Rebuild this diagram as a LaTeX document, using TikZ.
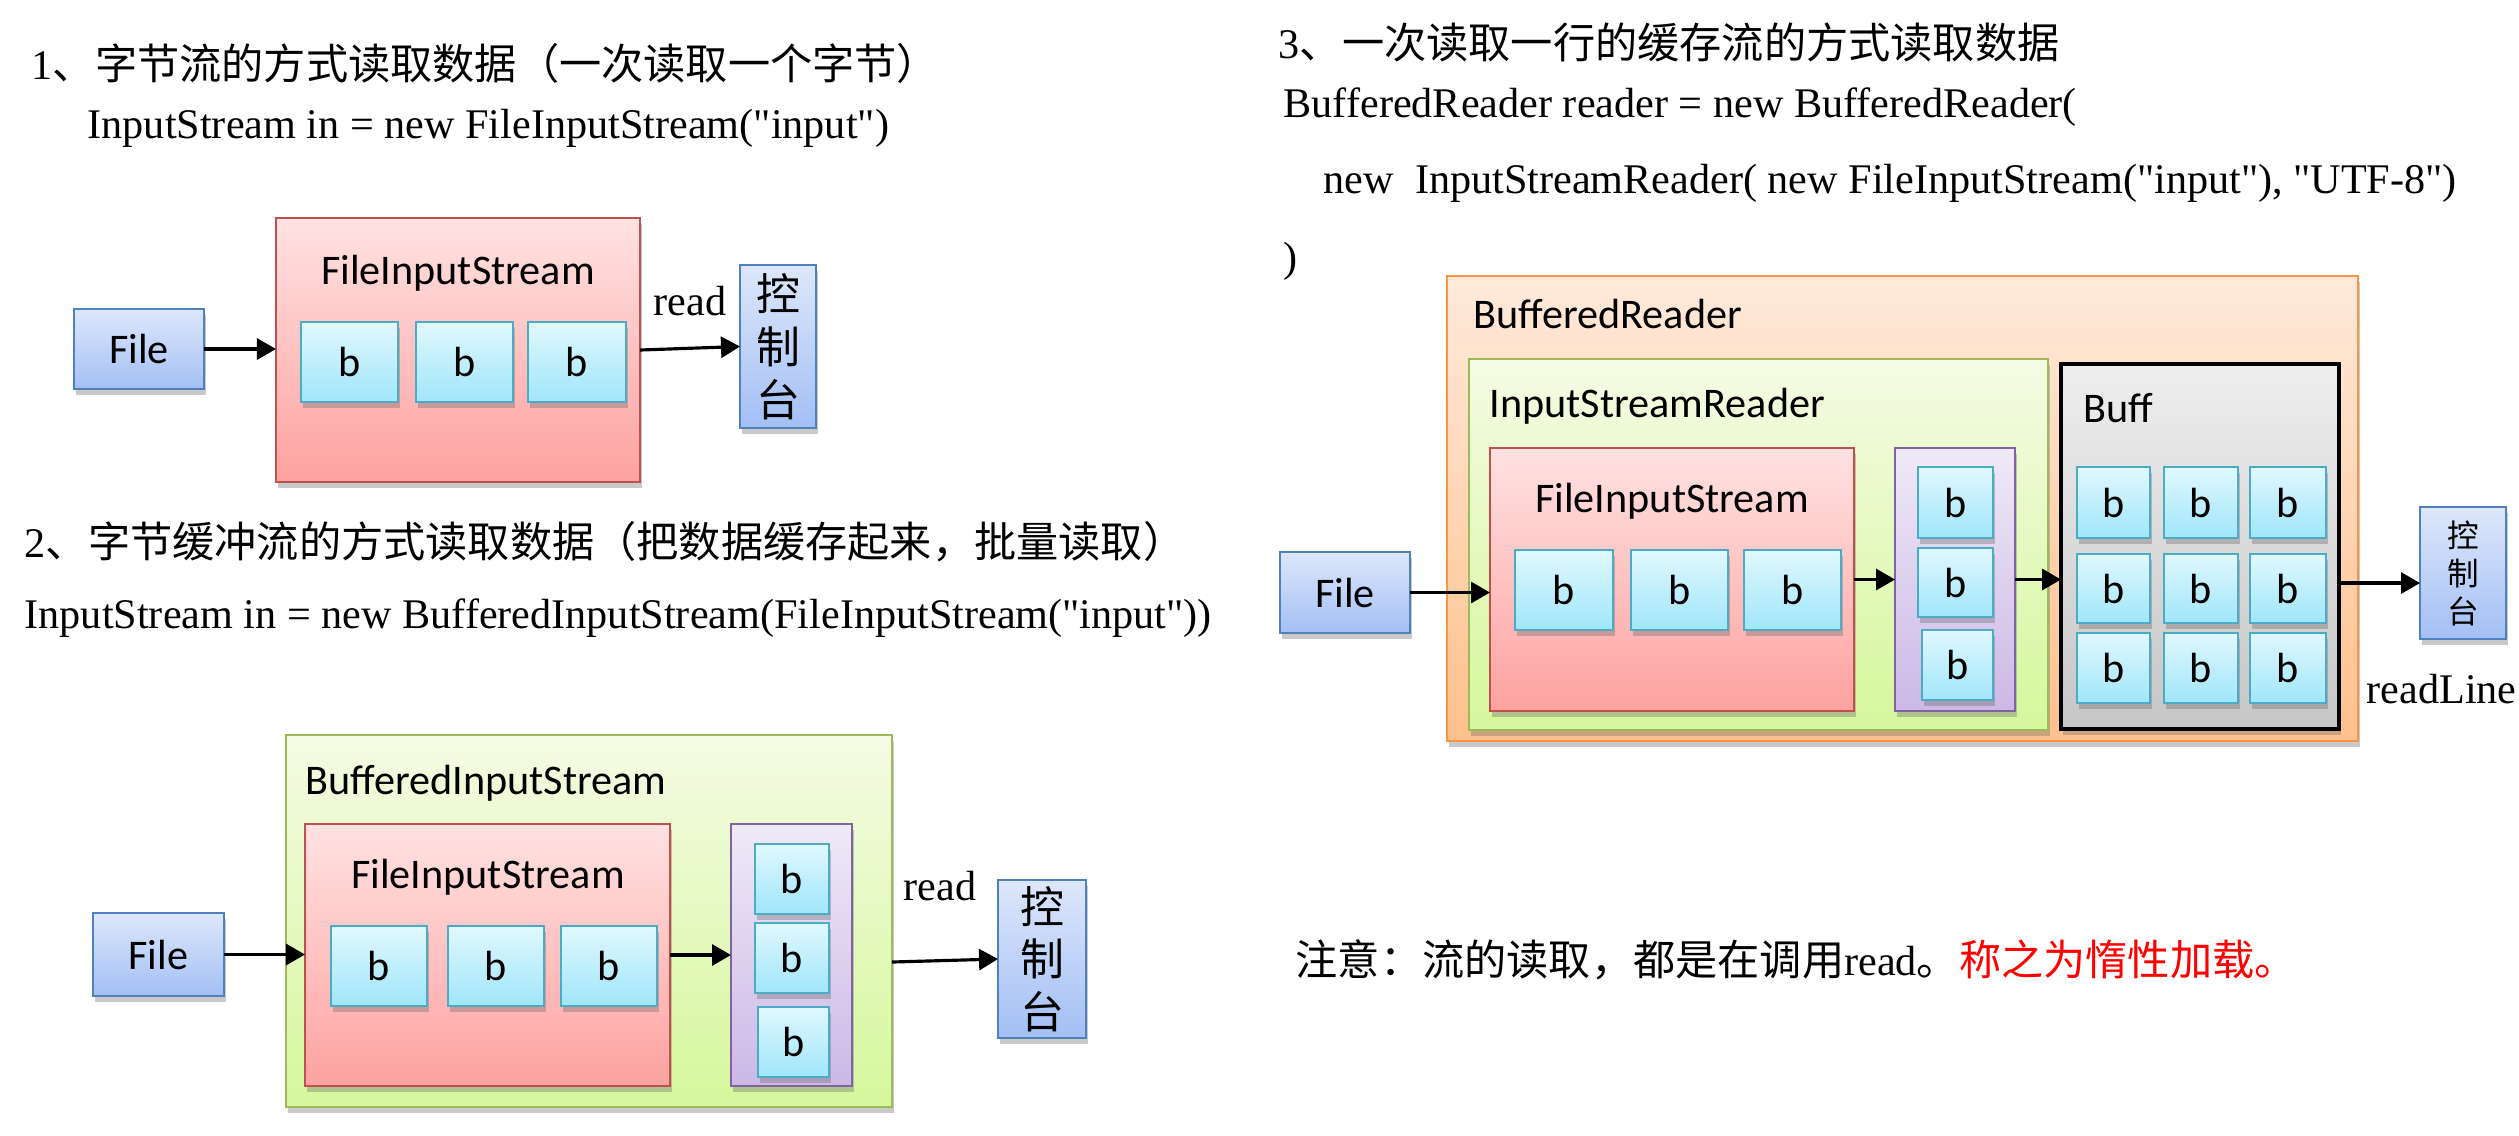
\documentclass[tikz,border=0pt]{standalone}
\usepackage{fontspec}
\setmainfont{Liberation Serif}[Ligatures=TeXOff]
\newfontfamily\cjk{Noto Sans CJK SC}
\newfontfamily\calfont{Carlito}
\usetikzlibrary{arrows.meta,shadows}
\newcommand\fs{\fontsize{12}{14.4}\selectfont}
\definecolor{blueT}{HTML}{DDE7FB}\definecolor{blueB}{HTML}{A3BFF4}\definecolor{blueD}{HTML}{4F81BD}
\definecolor{cyanT}{HTML}{E0F8FE}\definecolor{cyanB}{HTML}{A0E6FA}\definecolor{cyanD}{HTML}{4BACC6}
\definecolor{redT}{HTML}{FFE2E2}\definecolor{redB}{HTML}{FDA2A0}\definecolor{redD}{HTML}{C0504D}
\definecolor{grnT}{HTML}{F4FBE4}\definecolor{grnB}{HTML}{D6F79C}\definecolor{grnD}{HTML}{9BBB59}
\definecolor{purT}{HTML}{EFEAF8}\definecolor{purB}{HTML}{CCB8E6}\definecolor{purD}{HTML}{8064A2}
\definecolor{orgT}{HTML}{FFEADB}\definecolor{orgB}{HTML}{FFC08C}\definecolor{orgD}{HTML}{F79646}
\definecolor{gryT}{HTML}{EEEEEE}\definecolor{gryB}{HTML}{C6C6C6}
% #1 style, #2 name, #3 x1, #4 y1, #5 x2, #6 y2 (pixels), #7 text
\newcommand\mkbox[7]{\node[#1, minimum width={(#5-#3)*0.01cm}, minimum height={(#6-#4)*0.01cm}]
  (#2) at ({(#3+#5)/2},{(#4+#6)/2}) {#7};}
\tikzset{
  shbox/.style={inner sep=0pt, outer sep=0pt, line width=0.8pt, anchor=center,
    drop shadow={shadow xshift=0.6pt, shadow yshift=-1.8pt, opacity=0.35, fill=black!60}},
  filebox/.style={shbox, draw=blueD, top color=blueT, bottom color=blueB, font=\calfont\fs},
  conbox/.style={shbox, draw=blueD, top color=blueT, bottom color=blueB, align=center,
    font=\cjk\fontsize{12.5}{15}\selectfont},
  conboxs/.style={shbox, draw=blueD, top color=blueT, bottom color=blueB, align=center,
    font=\cjk\fontsize{9}{10.8}\selectfont},
  bbox/.style={shbox, draw=cyanD, top color=cyanT, bottom color=cyanB, font=\calfont\fs},
  redbox/.style={shbox, draw=redD, top color=redT, bottom color=redB},
  grnbox/.style={shbox, draw=grnD, top color=grnT, bottom color=grnB},
  purbox/.style={shbox, draw=purD, top color=purT, bottom color=purB},
  orgbox/.style={shbox, draw=orgD, top color=orgT, bottom color=orgB},
  grybox/.style={shbox, draw=black, line width=0.9pt, top color=gryT, bottom color=gryB},
  ser/.style={inner sep=0pt, font=\fs},
  lab/.style={inner sep=0pt, font=\calfont\fs},
  arr/.style={line width=0.9pt, -{Triangle[length=0.19cm,width=0.21cm]}},
}
\begin{document}
\begin{tikzpicture}[x=0.01cm,y=-0.01cm]
\useasboundingbox (0,0) rectangle (2519,1135);
\fill[white] (0,0) rectangle (2519,1135);

% ---------- texts ----------
\node[ser, anchor=west] (t1) at (31,63) {1{\cjk 、字节流的方式读取数据（一次读取一个字节）}};
\node[ser, anchor=base west] (c1) at (87,138) {InputStream in = new FileInputStream("input")};
\node[ser, anchor=west] (t2) at (24,542) {2{\cjk 、字节缓冲流的方式读取数据（把数据缓存起来，批量读取）}};
\node[ser, anchor=base west] (c2) at (24,628) {InputStream in = new BufferedInputStream(FileInputStream("input"))};
\node[ser, anchor=west] (t3) at (1278,42) {3{\cjk 、一次读取一行的缓存流的方式读取数据}};
\node[ser, anchor=base west] (c3a) at (1283,117) {BufferedReader reader = new BufferedReader(};
\node[ser, anchor=base west] (c3b) at (1323,193) {new\ \ InputStreamReader( new FileInputStream("input"), "UTF-8")};
\node[ser, anchor=base west] (c3c) at (1283,271) {)};
\node[ser, anchor=west] (note) at (1295,960) {{\cjk 注意：流的读取，都是在调用}read{\cjk 。}{\color{red}\cjk 称之为惰性加载。}};

% ---------- diagram 1 ----------
\mkbox{redbox}{fis1}{276}{218}{640}{482}{}
\node[lab, anchor=base] (fis1l) at (458,284) {FileInputStream};
\mkbox{bbox}{b1a}{301}{322}{398}{402}{b}
\mkbox{bbox}{b1b}{416}{322}{513}{402}{b}
\mkbox{bbox}{b1c}{528}{322}{626}{402}{b}
\mkbox{filebox}{file1}{74}{309}{204}{389}{File}
\mkbox{conbox}{con1}{740}{265}{816}{428}{控\\制\\台}
\node[ser, anchor=base west] (read1) at (653,315) {read};
\draw[arr] (file1.east) -- (file1.east -| fis1.west);
\draw[arr] (fis1.east) -- (con1.west);

% ---------- diagram 2 ----------
\mkbox{grnbox}{bis2}{286}{735}{892}{1107}{}
\node[lab, anchor=base west] (bis2l) at (305,794) {BufferedInputStream};
\mkbox{redbox}{fis2}{305}{824}{670}{1086}{}
\node[lab, anchor=base] (fis2l) at (488,888) {FileInputStream};
\mkbox{bbox}{b2a}{331}{926}{427}{1006}{b}
\mkbox{bbox}{b2b}{448}{926}{544}{1006}{b}
\mkbox{bbox}{b2c}{561}{926}{657}{1006}{b}
\mkbox{purbox}{pur2}{731}{824}{852}{1086}{}
\mkbox{bbox}{p2a}{755}{844}{829}{914}{b}
\mkbox{bbox}{p2b}{755}{923}{829}{993}{b}
\mkbox{bbox}{p2c}{758}{1007}{829}{1077}{b}
\mkbox{filebox}{file2}{93}{913}{224}{996}{File}
\mkbox{conbox}{con2}{998}{880}{1086}{1038}{控\\制\\台}
\node[ser, anchor=base west] (read2) at (903,900) {read};
\draw[arr] (file2.east) -- (file2.east -| fis2.west);
\draw[arr] (fis2.east) -- (fis2.east -| pur2.west);
\draw[arr] ([yshift=-0.03cm]bis2.east |- con2.west) -- (con2.west);

% ---------- diagram 3 ----------
\mkbox{orgbox}{br3}{1447}{276}{2358}{741}{}
\node[lab, anchor=base west] (br3l) at (1473,328) {BufferedReader};
\mkbox{grnbox}{isr3}{1469}{359}{2048}{730}{}
\node[lab, anchor=base west] (isr3l) at (1489,417) {InputStreamReader};
\mkbox{redbox}{fis3}{1490}{448}{1854}{711}{}
\node[lab, anchor=base] (fis3l) at (1672,512) {FileInputStream};
\mkbox{bbox}{b3a}{1515}{550}{1613}{630}{b}
\mkbox{bbox}{b3b}{1631}{550}{1728}{630}{b}
\mkbox{bbox}{b3c}{1744}{550}{1841}{630}{b}
\mkbox{purbox}{pur3}{1895}{448}{2015}{711}{}
\mkbox{bbox}{p3a}{1918}{467}{1993}{538}{b}
\mkbox{bbox}{p3b}{1918}{548}{1993}{617}{b}
\mkbox{bbox}{p3c}{1922}{630}{1993}{700}{b}
\mkbox{grybox}{buff3}{2061}{364}{2339}{729}{}
\node[lab, anchor=base west] (buff3l) at (2083,422) {Buff};
\mkbox{bbox}{g11}{2077}{467}{2150}{538}{b}
\mkbox{bbox}{g12}{2164}{467}{2238}{538}{b}
\mkbox{bbox}{g13}{2250}{467}{2326}{538}{b}
\mkbox{bbox}{g21}{2077}{554}{2150}{623}{b}
\mkbox{bbox}{g22}{2164}{554}{2238}{623}{b}
\mkbox{bbox}{g23}{2250}{554}{2326}{623}{b}
\mkbox{bbox}{g31}{2077}{633}{2150}{703}{b}
\mkbox{bbox}{g32}{2164}{633}{2238}{703}{b}
\mkbox{bbox}{g33}{2250}{633}{2326}{703}{b}
\mkbox{filebox}{file3}{1280}{552}{1410}{633}{File}
\mkbox{conboxs}{con3}{2420}{507}{2506}{639}{控\\制\\台}
\node[ser, anchor=base west] (rl3) at (2366,703) {readLine};
\draw[arr] (file3.east) -- (file3.east -| fis3.west);
\draw[arr] (fis3.east) -- (fis3.east -| pur3.west);
\draw[arr] (pur3.east) -- (pur3.east -| buff3.west);
\draw[arr] ([yshift=-0.1cm]buff3.east |- con3.west) -- ([yshift=-0.1cm]con3.west);
\end{tikzpicture}
\end{document}
